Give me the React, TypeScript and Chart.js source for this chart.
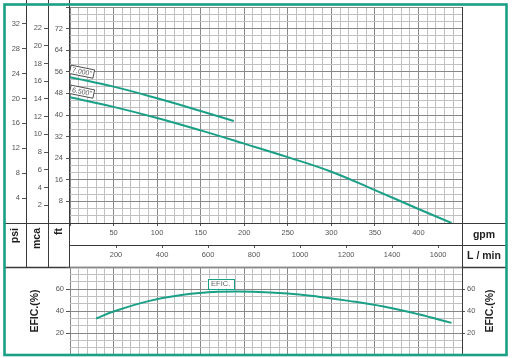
import React, { useEffect, useRef } from 'react';
import { Chart, registerables } from 'chart.js';

Chart.register(...registerables);

// ---------------- data ----------------
const curve7000Gpm = [0, 50, 100, 150, 188];
const curve7000Ft = [54.0, 50.5, 46.2, 41.5, 37.8];
const curve6500Gpm = [0, 50, 100, 150, 200, 250, 300, 350, 400, 438];
const curve6500Ft = [46.6, 43.0, 38.9, 34.3, 29.4, 24.4, 19.0, 12.2, 5.2, 0];
const effGpm = [30, 50, 90, 130, 170, 210, 250, 285, 320, 360, 400, 438];
const effPct = [33.2, 39.5, 49.0, 54.8, 57.4, 57.6, 56.0, 53.0, 49.2, 44.0, 37.0, 29.2];
const curveNames = ['7.000"', '6.500"'];
const effName = 'EFIC.';
const effLabelGpm = 173;
const effLabelPct = 65;

// ---------------- tick labels ----------------
const gpmTickLabels = [50, 100, 150, 200, 250, 300, 350, 400];
const lpmTickLabels = [200, 400, 600, 800, 1000, 1200, 1400, 1600];
const ftTickLabels = [8, 16, 24, 32, 40, 48, 56, 64, 72];
const mcaTickLabels = [2, 4, 6, 8, 10, 12, 14, 16, 18, 20, 22];
const psiTickLabels = [4, 8, 12, 16, 20, 24, 28, 32];
const effTickLabels = [20, 40, 60];

// ranges / unit conversions
const GPM_MAX = 450;
const FT_MAX = 80;
const EFF_MAX = 80;
const LPM_PER_GPM = 3.78541;
const FT_PER_M = 3.28084;
const FT_PER_PSI = 2.30666;
const GPM_GRID = 10;
const GPM_MAJOR = 50;
const FT_GRID = 8 / 3;
const FT_MAJOR = 8;
const EFF_GRID = 20 / 3;
const EFF_MAJOR = 20;

// ---------------- styles ----------------
const FONT = "'Liberation Sans', Arial, sans-serif";
const TEAL = '#19a087';
const GRID_MINOR = '#c0c0c0';
const GRID_MAJOR = '#888888';
const TICK_MARK = '#555';
const TICK_TEXT = '#555';
const TITLE_TEXT = '#1e1e1e';
const LINE_DARK = '#3a3a3a';
const FRAME_L = 5;
const FRAME_R = 506;

const isMult = (v: number, m: number) => Math.abs(v / m - Math.round(v / m)) < 1e-6;
const steps = (max: number, step: number) => {
  const a: { value: number }[] = [];
  for (let i = 0; i * step <= max + 1e-9; i++) a.push({ value: i * step });
  return a;
};
const noPad = (s: any) => {
  s.paddingTop = 0;
  s.paddingBottom = 0;
  s.paddingLeft = 0;
  s.paddingRight = 0;
};
const tickFont = { family: FONT, size: 7.5 };
const plain = (v: any) => String(Math.round(Number(v)));
const showIf = (list: number[]) => (v: any) =>
  list.some((l) => Math.abs(l - Number(v)) < 1e-6) ? plain(v) : '';

function hLine(ctx: CanvasRenderingContext2D, x1: number, x2: number, y: number) {
  ctx.beginPath();
  ctx.moveTo(x1, Math.round(y) + 0.5);
  ctx.lineTo(x2, Math.round(y) + 0.5);
  ctx.stroke();
}
function vLine(ctx: CanvasRenderingContext2D, x: number, y1: number, y2: number) {
  ctx.beginPath();
  ctx.moveTo(Math.round(x) + 0.5, y1);
  ctx.lineTo(Math.round(x) + 0.5, y2);
  ctx.stroke();
}

const upperDecor = {
  id: 'upperDecor',
  afterDraw(chart: any) {
    const ctx: CanvasRenderingContext2D = chart.ctx;
    const ca = chart.chartArea;
    const sc = chart.scales;
    const rowsBottom = sc.lpm.bottom;
    ctx.save();
    ctx.strokeStyle = LINE_DARK;
    ctx.lineWidth = 1;
    vLine(ctx, sc.psi.right, 0, rowsBottom);
    vLine(ctx, sc.mca.right, 0, rowsBottom);
    vLine(ctx, ca.left - 1, 0, rowsBottom);
    vLine(ctx, ca.right, ca.top, rowsBottom);
    hLine(ctx, FRAME_L, FRAME_R, ca.bottom);
    hLine(ctx, ca.left, FRAME_R, sc.lpm.top);
    ctx.lineWidth = 1.5;
    hLine(ctx, FRAME_L, FRAME_R, rowsBottom);

    // column titles
    ctx.fillStyle = TITLE_TEXT;
    ctx.font = `bold 10.5px ${FONT}`;
    const titleTop = ca.bottom + 5;
    const cols: [string, number][] = [
      ['psi', (sc.psi.left + sc.psi.right) / 2],
      ['mca', (sc.mca.left + sc.mca.right) / 2],
      ['ft', (sc.y.left + sc.y.right) / 2],
    ];
    cols.forEach(([t, x]) => {
      ctx.save();
      ctx.translate(x, titleTop);
      ctx.rotate(-Math.PI / 2);
      ctx.textAlign = 'right';
      ctx.textBaseline = 'middle';
      ctx.fillText(t, 0, 0);
      ctx.restore();
    });
    const rx = (ca.right + FRAME_R) / 2;
    ctx.textAlign = 'center';
    ctx.textBaseline = 'middle';
    ctx.font = `bold 10.5px ${FONT}`;
    ctx.fillText('gpm', rx, (ca.bottom + sc.lpm.top) / 2 + 1);
    ctx.fillText('L / min', rx, (sc.lpm.top + sc.lpm.bottom) / 2);

    // curve labels
    chart.data.datasets.forEach((ds: any, i: number) => {
      const meta = chart.getDatasetMeta(i);
      const p = meta.data[0];
      if (!p) return;
      const name = curveNames[i];
      ctx.save();
      ctx.translate(p.x + 12, p.y - 5.5);
      ctx.rotate(0.2);
      ctx.font = `7px ${FONT}`;
      const w = ctx.measureText(name).width + 4;
      const h = 8.5;
      ctx.fillStyle = '#fff';
      ctx.fillRect(-w / 2, -h / 2, w, h);
      ctx.strokeStyle = '#333';
      ctx.lineWidth = 0.8;
      ctx.strokeRect(-w / 2, -h / 2, w, h);
      ctx.fillStyle = '#555';
      ctx.textAlign = 'center';
      ctx.textBaseline = 'middle';
      ctx.fillText(name, 0, 0.5);
      ctx.restore();
    });
    ctx.restore();
  },
};

const lowerDecor = {
  id: 'lowerDecor',
  afterDraw(chart: any) {
    const ctx: CanvasRenderingContext2D = chart.ctx;
    const ca = chart.chartArea;
    const sc = chart.scales;
    ctx.save();
    // efficiency label
    const lx = sc.x.getPixelForValue(effLabelGpm);
    const ly = sc.y.getPixelForValue(effLabelPct);
    ctx.font = `7.5px ${FONT}`;
    const w = ctx.measureText(effName).width + 7;
    const h = 10;
    ctx.fillStyle = '#fff';
    ctx.fillRect(lx - w / 2, ly - h / 2, w, h);
    ctx.strokeStyle = TEAL;
    ctx.lineWidth = 1;
    ctx.strokeRect(Math.round(lx - w / 2) + 0.5, Math.round(ly - h / 2) + 0.5, Math.round(w), h);
    ctx.fillStyle = '#666';
    ctx.textAlign = 'center';
    ctx.textBaseline = 'middle';
    ctx.fillText(effName, lx, ly + 0.5);

    // axis titles
    ctx.fillStyle = TITLE_TEXT;
    ctx.font = `bold 10.5px ${FONT}`;
    const cy = (ca.top + ca.bottom) / 2;
    [35, 490].forEach((x) => {
      ctx.save();
      ctx.translate(x, cy);
      ctx.rotate(-Math.PI / 2);
      ctx.textAlign = 'center';
      ctx.textBaseline = 'middle';
      ctx.fillText('EFIC.(%)', 0, 0);
      ctx.restore();
    });

    // outer teal frame
    ctx.strokeStyle = TEAL;
    ctx.lineWidth = 2.6;
    ctx.strokeRect(4.5, 4.5, 502, 350.5);
    ctx.restore();
  },
};

export default function App() {
  const upperRef = useRef<HTMLCanvasElement | null>(null);
  const lowerRef = useRef<HTMLCanvasElement | null>(null);

  useEffect(() => {
    if (!upperRef.current || !lowerRef.current) return;

    const majorGrid = (m: number) => (c: any) =>
      c.tick && isMult(c.tick.value, m) ? GRID_MAJOR : GRID_MINOR;
    const majorTick = (m: number) => (c: any) =>
      c.tick && isMult(c.tick.value, m) ? TICK_MARK : 'rgba(0,0,0,0)';
    const lineDs = (label: string, xs: number[], ys: number[]) => ({
      label,
      data: xs.map((g, i) => ({ x: g, y: ys[i] })),
      borderColor: TEAL,
      borderWidth: 2,
      pointRadius: 0,
      tension: 0.4,
      xAxisID: 'x',
      yAxisID: 'y',
    });

    const upper = new Chart(upperRef.current, {
      type: 'line',
      data: {
        datasets: [
          lineDs(curveNames[0], curve7000Gpm, curve7000Ft),
          lineDs(curveNames[1], curve6500Gpm, curve6500Ft),
        ],
      },
      options: {
        responsive: false,
        animation: false,
        devicePixelRatio: 1,
        layout: { padding: { left: 5, right: 50, top: 7, bottom: 91 } },
        plugins: { legend: { display: false }, tooltip: { enabled: false } },
        scales: {
          x: {
            type: 'linear',
            position: 'bottom',
            weight: 0,
            min: 0,
            max: GPM_MAX,
            afterBuildTicks: (s: any) => {
              s.ticks = steps(GPM_MAX, GPM_GRID);
            },
            grid: {
              color: majorGrid(GPM_MAJOR),
              lineWidth: 1,
              drawTicks: true,
              tickLength: 3,
              tickColor: majorTick(GPM_MAJOR),
            },
            border: { display: false },
            ticks: {
              autoSkip: false,
              maxRotation: 0,
              minRotation: 0,
              padding: 2,
              font: tickFont,
              color: TICK_TEXT,
              callback: showIf(gpmTickLabels),
            },
            afterFit: (s: any) => {
              s.height = 22;
              noPad(s);
            },
          },
          lpm: {
            type: 'linear',
            position: 'bottom',
            weight: 1,
            min: 0,
            max: GPM_MAX * LPM_PER_GPM,
            afterBuildTicks: (s: any) => {
              s.ticks = lpmTickLabels.map((v) => ({ value: v }));
            },
            grid: { drawOnChartArea: false, drawTicks: true, tickLength: 3, tickColor: TICK_MARK },
            border: { display: false },
            ticks: {
              autoSkip: false,
              maxRotation: 0,
              minRotation: 0,
              padding: 2,
              font: tickFont,
              color: TICK_TEXT,
              callback: plain,
            },
            afterFit: (s: any) => {
              s.height = 22;
              noPad(s);
            },
          },
          y: {
            type: 'linear',
            position: 'left',
            weight: 0,
            min: 0,
            max: FT_MAX,
            afterBuildTicks: (s: any) => {
              s.ticks = steps(FT_MAX, FT_GRID);
            },
            grid: {
              color: majorGrid(FT_MAJOR),
              lineWidth: 1,
              drawTicks: true,
              tickLength: 4,
              tickColor: majorTick(FT_MAJOR),
            },
            border: { display: false },
            ticks: {
              autoSkip: false,
              padding: 3,
              font: tickFont,
              color: TICK_TEXT,
              callback: showIf(ftTickLabels),
            },
            afterFit: (s: any) => {
              s.width = 22;
              noPad(s);
            },
          },
          mca: {
            type: 'linear',
            position: 'left',
            weight: 1,
            min: 0,
            max: FT_MAX / FT_PER_M,
            afterBuildTicks: (s: any) => {
              s.ticks = mcaTickLabels.map((v) => ({ value: v }));
            },
            grid: { drawOnChartArea: false, drawTicks: true, tickLength: 4, tickColor: TICK_MARK },
            border: { display: false },
            ticks: { autoSkip: false, padding: 2, font: tickFont, color: TICK_TEXT, callback: plain },
            afterFit: (s: any) => {
              s.width = 22;
              noPad(s);
            },
          },
          psi: {
            type: 'linear',
            position: 'left',
            weight: 2,
            min: 0,
            max: FT_MAX / FT_PER_PSI,
            afterBuildTicks: (s: any) => {
              s.ticks = psiTickLabels.map((v) => ({ value: v }));
            },
            grid: { drawOnChartArea: false, drawTicks: true, tickLength: 4, tickColor: TICK_MARK },
            border: { display: false },
            ticks: { autoSkip: false, padding: 2, font: tickFont, color: TICK_TEXT, callback: plain },
            afterFit: (s: any) => {
              s.width = 21;
              noPad(s);
            },
          },
        },
      } as any,
      plugins: [upperDecor],
    });

    const lower = new Chart(lowerRef.current, {
      type: 'line',
      data: { datasets: [lineDs(effName, effGpm, effPct)] },
      options: {
        responsive: false,
        animation: false,
        devicePixelRatio: 1,
        layout: { padding: { left: 5, right: 6, top: 267, bottom: 3 } },
        plugins: { legend: { display: false }, tooltip: { enabled: false } },
        scales: {
          x: {
            type: 'linear',
            position: 'bottom',
            min: 0,
            max: GPM_MAX,
            afterBuildTicks: (s: any) => {
              s.ticks = steps(GPM_MAX, GPM_GRID);
            },
            grid: { color: majorGrid(GPM_MAJOR), lineWidth: 1, drawTicks: false },
            border: { display: false },
            ticks: { display: false, autoSkip: false },
            afterFit: (s: any) => {
              s.height = 0;
              noPad(s);
            },
          },
          y: {
            type: 'linear',
            position: 'left',
            min: 0,
            max: EFF_MAX,
            afterBuildTicks: (s: any) => {
              s.ticks = steps(EFF_MAX, EFF_GRID);
            },
            grid: {
              color: majorGrid(EFF_MAJOR),
              lineWidth: 1,
              drawTicks: true,
              tickLength: 4,
              tickColor: majorTick(EFF_MAJOR),
            },
            border: { display: false },
            ticks: {
              autoSkip: false,
              padding: 2,
              font: tickFont,
              color: TICK_TEXT,
              callback: showIf(effTickLabels),
            },
            afterFit: (s: any) => {
              s.width = 65;
              noPad(s);
            },
          },
          yR: {
            type: 'linear',
            position: 'right',
            min: 0,
            max: EFF_MAX,
            afterBuildTicks: (s: any) => {
              s.ticks = effTickLabels.map((v) => ({ value: v }));
            },
            grid: { drawOnChartArea: false, drawTicks: true, tickLength: 3, tickColor: TICK_MARK },
            border: { display: true, color: LINE_DARK },
            ticks: { autoSkip: false, padding: 2, font: tickFont, color: TICK_TEXT, callback: plain },
            afterFit: (s: any) => {
              s.width = 44;
              noPad(s);
            },
          },
        },
      } as any,
      plugins: [lowerDecor],
    });

    return () => {
      upper.destroy();
      lower.destroy();
    };
  }, []);

  return (
    <div style={{ position: 'fixed', left: 0, top: 0, width: 512, height: 358, background: '#fff' }}>
      <canvas ref={upperRef} width={512} height={358} style={{ position: 'absolute', left: 0, top: 0 }} />
      <canvas ref={lowerRef} width={512} height={358} style={{ position: 'absolute', left: 0, top: 0 }} />
    </div>
  );
}
